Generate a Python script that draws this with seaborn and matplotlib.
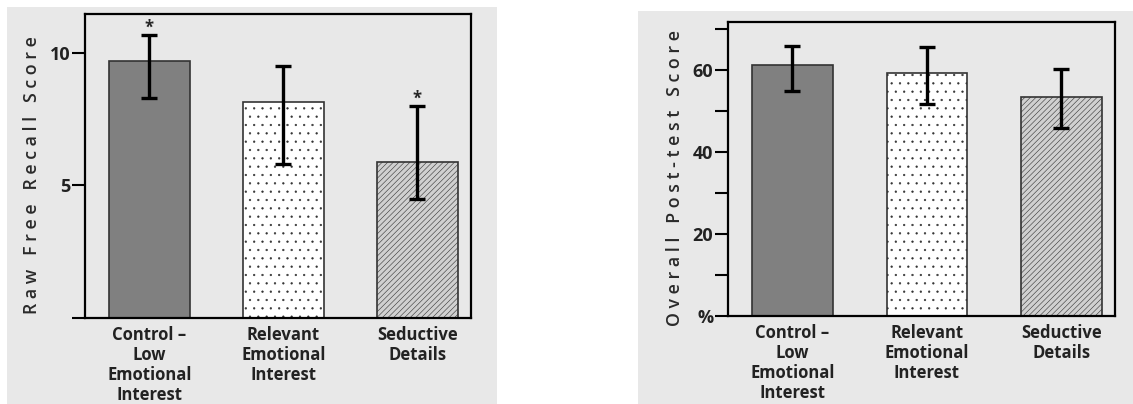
import matplotlib
matplotlib.use("Agg")
import matplotlib.pyplot as plt
import matplotlib.patches as mpatches
from matplotlib.ticker import FixedLocator
import pandas as pd
import seaborn as sns

# values
categories = ["Control –\nLow\nEmotional\nInterest",
              "Relevant\nEmotional\nInterest",
              "Seductive\nDetails"]
recall_mean = [9.69, 8.16, 5.89]
recall_lo = [8.31, 5.81, 4.49]
recall_hi = [10.68, 9.50, 8.00]
recall_sig = ["*", "", "*"]
post_mean = [61.1, 59.1, 53.4]
post_lo = [54.7, 51.7, 45.9]
post_hi = [65.8, 65.6, 60.2]

sns.set_style("white")
plt.rcParams["font.family"] = ["Open Sans", "DejaVu Sans"]
plt.rcParams["hatch.linewidth"] = 0.4

BG = "#e8e8e8"
fills = ["#808080", "white", "#d0d0d0"]
hatches = ["", "..", "//////"]


def spaced(text):
    return "   ".join(" ".join(w) for w in text.split(" "))


def draw_panel(ax, means, lo, hi, ylabel):
    df = pd.DataFrame({"group": categories, "score": means})
    sns.barplot(data=df, x="group", y="score", ax=ax, width=0.6,
                color="white", edgecolor="#333333", linewidth=1.2,
                errorbar=None)
    for bar, fc, h in zip(ax.patches, fills, hatches):
        bar.set_facecolor(fc)
        bar.set_hatch(h)
    xs = range(len(means))
    yerr = [[m - l for m, l in zip(means, lo)],
            [h - m for m, h in zip(means, hi)]]
    ax.errorbar(xs, means, yerr=yerr, fmt="none", ecolor="black",
                elinewidth=2.4, capsize=6, capthick=2.4, zorder=5)
    ax.set_facecolor(BG)
    ax.set_xlim(-0.48, 2.40)
    ax.set_xlabel("")
    ax.set_ylabel(spaced(ylabel), fontsize=12.8, color="#2a2a2a",
                  fontweight="semibold", labelpad=6)
    ax.yaxis.label.set_y(0.47)
    for s in ax.spines.values():
        s.set_color("black")
        s.set_linewidth(1.6)
    ax.tick_params(axis="x", length=0, pad=6, labelsize=12)
    ax.tick_params(axis="y", which="both", direction="out", length=9.5,
                   width=1.5, color="black", labelsize=13, pad=1, left=True)
    for t in ax.get_xticklabels():
        t.set_fontweight("bold")
        t.set_color("#222222")
        t.set_linespacing(1.14)


fig = plt.figure(figsize=(11.33, 4.04), dpi=100)
fig.patches.append(mpatches.Rectangle((0.0062, 0.0), 0.4325, 0.983,
                                      transform=fig.transFigure,
                                      facecolor=BG, edgecolor="none", zorder=-5))
fig.patches.append(mpatches.Rectangle((0.5631, 0.0), 0.437, 0.973,
                                      transform=fig.transFigure,
                                      facecolor=BG, edgecolor="none", zorder=-5))

ax1 = fig.add_axes([0.0750, 0.2129, 0.3407, 0.7525])
draw_panel(ax1, recall_mean, recall_lo, recall_hi, "Raw Free Recall Score")
ax1.set_ylim(0, 11.47)
ax1.set_yticks([0, 5, 10])
ax1.set_yticklabels(["", "5", "10"], fontweight="bold", color="#222222")
for x, (h, s) in enumerate(zip(recall_hi, recall_sig)):
    if s:
        ax1.annotate(s, (x, h), xytext=(0, -1), textcoords="offset points",
                     ha="center", va="bottom", fontsize=12, fontweight="bold")

ax2 = fig.add_axes([0.6425, 0.2178, 0.3416, 0.7277])
draw_panel(ax2, post_mean, post_lo, post_hi, "Overall Post-test Score")
ax2.set_ylim(0, 71.6)
ax2.set_yticks([0, 20, 40, 60])
ax2.set_yticklabels(["%", "20", "40", "60"], fontweight="bold", color="#222222")
ax2.yaxis.set_minor_locator(FixedLocator([10, 30, 50, 70]))

fig.savefig("out.png", dpi=100)
